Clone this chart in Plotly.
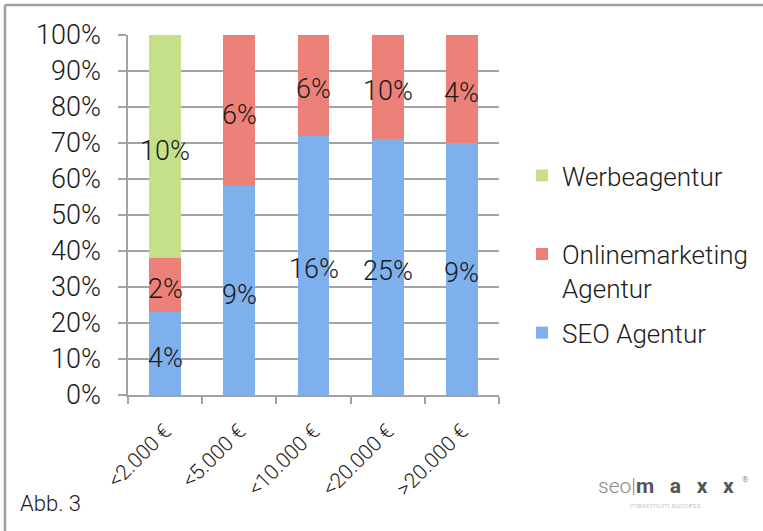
import plotly.graph_objects as go

categories = ["<2.000 €", "<5.000 €", "<10.000 €", "<20.000 €", ">20.000 €"]
seo_share = [23, 58, 72, 71, 70]
online_share = [15, 42, 28, 29, 30]
werbe_share = [62, 0, 0, 0, 0]
seo_labels = ["4%", "9%", "16%", "25%", "9%"]
online_labels = ["2%", "6%", "6%", "10%", "4%"]
werbe_labels = ["10%", "", "", "", ""]
y_ticks = list(range(0, 101, 10))

FONT = "Roboto"
TXT = "#1a1a1a"
GRID = "#a3a3a3"

fig = go.Figure()
series = [
    ("SEO Agentur", seo_share, seo_labels, "#7db0ec", "seo", 3),
    ("Onlinemarketing<br>Agentur", online_share, online_labels, "#ec817a", "online", 2),
    ("Werbeagentur<br> ", werbe_share, werbe_labels, "#c6e089", "werbe", 1),
]
for name, vals, labs, col, grp, rank in series:
    fig.add_trace(go.Bar(
        x=categories, y=vals, name=name, legendgroup=grp, legendrank=rank,
        marker=dict(color=col, line=dict(width=0)),
        hoverinfo="skip",
    ))

# segment labels centred on each segment
base = [0] * len(categories)
for name, vals, labs, col, grp, rank in series:
    for i, (v, lab) in enumerate(zip(vals, labs)):
        if v > 0 and lab:
            fig.add_annotation(
                x=categories[i], y=base[i] + v / 2, text=lab, showarrow=False,
                font=dict(family=FONT, size=27, color=TXT, weight=300),
                xref="x", yref="y", yshift=-4,
            )
        base[i] += v

fig.update_layout(
    barmode="stack",
    bargap=0.57,
    width=763, height=531,
    margin=dict(l=128, r=264, t=35, b=136, autoexpand=False),
    paper_bgcolor="white", plot_bgcolor="white",
    font=dict(family=FONT, color=TXT, weight=300),
    showlegend=True,
    legend=dict(
        x=1.062, y=0.675, xanchor="left", yanchor="top",
        traceorder="grouped", tracegroupgap=8, valign="top",
        font=dict(family=FONT, size=26, color=TXT, weight=300),
        itemwidth=30, bgcolor="rgba(0,0,0,0)",
    ),
    xaxis=dict(
        showgrid=False, showline=True, linecolor=GRID, linewidth=1.5,
        ticks="outside", tickson="boundaries", ticklen=7, tickcolor=GRID, tickwidth=1.5,
        tickangle=-45, ticklabelstandoff=14,
        tickfont=dict(family=FONT, size=21, color=TXT, weight=300),
        fixedrange=True,
    ),
    yaxis=dict(
        range=[0, 100], tickvals=y_ticks, ticktext=[f"{t}%" for t in y_ticks],
        showgrid=True, gridcolor=GRID, gridwidth=1.5,
        showline=True, linecolor=GRID, linewidth=1.5,
        ticks="outside", ticklen=8, tickcolor=GRID, tickwidth=1.5,
        ticklabelstandoff=12,
        tickfont=dict(family=FONT, size=27, color=TXT, weight=300),
        zeroline=False, fixedrange=True,
    ),
)

# outer frame (top and left edges visible)
fig.add_shape(type="line", xref="paper", yref="paper",
              x0=-123 / 371, x1=2.0, y0=390 / 360, y1=390 / 360,
              line=dict(color="#a0a0a0", width=2.5))
fig.add_shape(type="line", xref="paper", yref="paper",
              x0=-123 / 371, x1=-123 / 371, y0=390 / 360, y1=-1.0,
              line=dict(color="#a0a0a0", width=2.5))

fig.add_annotation(text="Abb. 3", xref="paper", yref="paper", x=-110 / 371, y=-108 / 360,
                   xanchor="left", yanchor="middle", showarrow=False,
                   font=dict(family=FONT, size=22, color=TXT, weight=300))
sp = "&nbsp;&nbsp;&nbsp;"
fig.add_annotation(
    text=("<span style='color:#8a8a8a'>seo|</span>"
          f"<b>m{sp}a{sp}x{sp}x</b>"),
    xref="paper", yref="paper", x=(596 - 128) / 371, y=-91 / 360,
    xanchor="left", yanchor="middle", showarrow=False,
    font=dict(family=FONT, size=21, color="#555555", weight=300))
fig.add_annotation(text="®", xref="paper", yref="paper", x=(745 - 128) / 371, y=-84 / 360,
                   xanchor="center", yanchor="middle", showarrow=False,
                   font=dict(family=FONT, size=8, color="#555555"))
fig.add_annotation(text="maxximum success", xref="paper", yref="paper",
                   x=(665 - 128) / 371, y=-110 / 360, xanchor="center", yanchor="middle",
                   showarrow=False, font=dict(family=FONT, size=8, color="#b5b5b5"))

fig.write_html("out.html", config={"displayModeBar": False},
               post_script="document.body.style.margin='0';")
